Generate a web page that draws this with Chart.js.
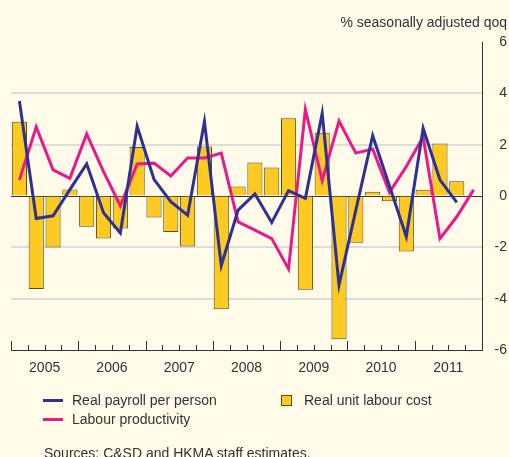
<!DOCTYPE html>
<html><head><meta charset="utf-8">
<script src="https://cdn.jsdelivr.net/npm/chart.js@4.4.0/dist/chart.umd.min.js"></script>
<style>
html,body{margin:0;padding:0;background:#FFFBE8;}
#wrap{position:relative;width:509px;height:457px;overflow:hidden;font-family:"Liberation Sans",Arial,sans-serif;color:#333;font-size:14px;}
canvas{position:absolute;left:0;top:0;}
.t{position:absolute;white-space:nowrap;line-height:16px;}
.ln{position:absolute;width:20px;height:3px;}
.bx{position:absolute;width:9px;height:9px;border:1px solid #5b4a14;background:#FDCA22;}
</style></head>
<body><div id="wrap">
<canvas id="c" width="509" height="457"></canvas>
<div class="t" id="title" style="right:2px;top:14px;"></div>
<div class="ln" id="m0" style="left:43px;top:399px;background:#2E3192;"></div>
<div class="t" id="l0" style="left:72px;top:392px;"></div>
<div class="ln" id="m1" style="left:43px;top:418px;background:#E8198B;"></div>
<div class="t" id="l1" style="left:72px;top:411px;"></div>
<div class="bx" style="left:281px;top:395px;"></div>
<div class="t" id="l2" style="left:304px;top:392px;"></div>
<div class="t" id="src" style="left:44px;top:445px;"></div>
</div>
<script>
const titleText = '% seasonally adjusted qoq';
const sourceText = 'Sources: C&SD and HKMA staff estimates.';
const years = ['2005','2006','2007','2008','2009','2010','2011'];
const quarters = [];
years.forEach(y => { for (let q = 1; q <= 4; q++) quarters.push(y + ' Q' + q); });
const seriesNames = ['Real payroll per person', 'Labour productivity', 'Real unit labour cost'];
const payroll = [3.70,-0.88,-0.77,0.25,1.25,-0.65,-1.44,2.72,0.65,-0.22,-0.75,2.90,-2.71,-0.55,0.08,-1.03,0.21,-0.09,3.22,-3.47,-0.55,2.35,0.39,-1.58,2.64,0.63,-0.25];
const productivity = [0.63,2.69,1.02,0.69,2.42,0.95,-0.38,1.25,1.28,0.78,1.48,1.48,1.67,-1.01,-1.33,-1.66,-2.84,3.37,0.60,2.92,1.67,1.83,0.14,1.15,2.30,-1.66,-0.81,0.24];
const unitLabourCost = [2.89,-3.62,-2.01,0.25,-1.20,-1.66,-1.27,1.91,-0.84,-1.40,-1.97,1.93,-4.41,0.37,1.31,1.11,3.03,-3.65,2.46,-5.58,-1.82,0.17,-0.20,-2.16,0.24,2.05,0.57];

document.getElementById('title').textContent = titleText;
document.getElementById('src').textContent = sourceText;
document.getElementById('l0').textContent = seriesNames[0];
document.getElementById('l1').textContent = seriesNames[1];
document.getElementById('l2').textContent = seriesNames[2];

const FONT = "'Liberation Sans', Arial, sans-serif";
const tickPlugin = {
  id: 'qticks',
  afterDraw(chart) {
    const xs = chart.scales.x, ctx = chart.ctx;
    const n = quarters.length, w = (xs.right - xs.left) / n, b = chart.chartArea.bottom;
    ctx.save();
    ctx.strokeStyle = '#333'; ctx.lineWidth = 1;
    for (let i = 0; i <= n; i++) {
      const x = Math.round(xs.left + i * w) + 0.5;
      const len = (i % 4 === 0) ? 9 : 5;
      ctx.beginPath(); ctx.moveTo(x, b); ctx.lineTo(x, b - len); ctx.stroke();
    }
    ctx.restore();
  }
};

new Chart(document.getElementById('c'), {
  data: {
    labels: quarters,
    datasets: [
      { type: 'line', label: seriesNames[0], data: payroll, borderColor: '#2E3192', borderWidth: 3, pointRadius: 0, tension: 0, order: 0 },
      { type: 'line', label: seriesNames[1], data: productivity, borderColor: '#E8198B', borderWidth: 3, pointRadius: 0, tension: 0, order: 1 },
      { type: 'bar', label: seriesNames[2], data: unitLabourCost, backgroundColor: '#FDCA22', borderColor: '#5b4a14', borderWidth: 1, categoryPercentage: 1, barPercentage: 0.9, order: 2 }
    ]
  },
  options: {
    responsive: false, animation: false,
    layout: { padding: { left: 11, top: 42, right: 2, bottom: 0 } },
    plugins: { legend: { display: false }, tooltip: { enabled: false }, title: { display: false } },
    scales: {
      x: {
        type: 'category', offset: true,
        grid: { display: true, drawOnChartArea: false, drawTicks: false },
        border: { display: true, color: '#333', width: 1 },
        ticks: {
          autoSkip: false, maxRotation: 0, padding: 10, labelOffset: 8.41,
          color: '#333', font: { family: FONT, size: 14 },
          callback: (v, i) => (i % 4 === 1 ? years[Math.floor(i / 4)] : '')
        },
        afterFit: s => { s.height = 107; }
      },
      y: {
        position: 'right', min: -6, max: 6,
        grid: {
          drawTicks: false,
          color: c => (c.tick.value === 0 ? '#333' : (Math.abs(c.tick.value) === 6 ? 'rgba(0,0,0,0)' : '#DCDCDC')),
          lineWidth: c => (c.tick.value === 0 ? 1 : 2)
        },
        border: { display: true, color: '#333', width: 1 },
        ticks: { stepSize: 2, padding: 8, color: '#333', font: { family: FONT, size: 14 }, crossAlign: 'far' },
        afterFit: s => { s.width = 25; }
      }
    }
  },
  plugins: [tickPlugin]
});
</script>
</body></html>
